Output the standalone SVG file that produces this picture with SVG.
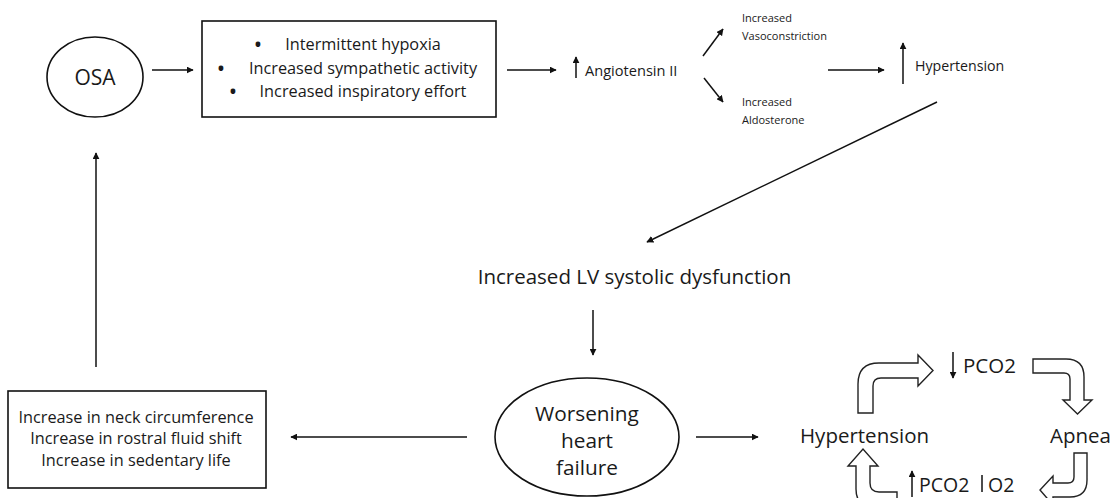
<svg xmlns="http://www.w3.org/2000/svg" width="1113" height="498" viewBox="0 0 1113 498">
<defs>
<marker id="ah" viewBox="0 0 10 10" refX="9" refY="5" markerWidth="7" markerHeight="7" markerUnits="userSpaceOnUse" orient="auto">
<path d="M0,0 L10,5 L0,10 Z" fill="#111"/>
</marker>
<style>
text{font-family:"Open Sans","Noto Sans",sans-serif;fill:#1a1a1a}
.c{text-anchor:middle}
.ln{stroke:#111;stroke-width:1.5;fill:none}
.ar{marker-end:url(#ah)}
.shape{fill:#fff;stroke:#111;stroke-width:1.6}
.blk{fill:#fff;stroke:#222;stroke-width:1.4;stroke-linejoin:miter}
.s16{font-size:16.3px}
.bul{font-size:17px;font-weight:bold}
.s11{font-size:11px}
.s20{font-size:20.5px}
.s19{font-size:19.5px}
</style>
</defs>
<rect width="1113" height="498" fill="#fff"/>

<g id="osa">
<ellipse class="shape" cx="95" cy="77" rx="48" ry="40"/>
<text class="c" x="95" y="85" font-size="21">OSA</text>
</g>

<g id="mechanisms">
<rect class="shape" x="202" y="21" width="294" height="96"/>
<text class="bul c" x="258" y="51">•</text>
<text class="c s16" x="363" y="50">Intermittent hypoxia</text>
<text class="bul c" x="221" y="75">•</text>
<text class="c s16" x="363" y="74">Increased sympathetic activity</text>
<text class="bul c" x="233" y="98">•</text>
<text class="c s16" x="363" y="97">Increased inspiratory effort</text>
</g>

<g id="angiotensin">
<line class="ln ar" x1="576" y1="78" x2="576" y2="57"/>
<text x="585" y="76" font-size="14.6">Angiotensin II</text>
</g>

<g id="vasoconstriction">
<text class="s11" x="742" y="22">Increased</text>
<text class="s11" x="742" y="40">Vasoconstriction</text>
</g>

<g id="aldosterone">
<text class="s11" x="742" y="106">Increased</text>
<text class="s11" x="742" y="124">Aldosterone</text>
</g>

<g id="hypertension-top">
<line class="ln ar" x1="903" y1="84" x2="903" y2="43"/>
<text x="915" y="71" font-size="14.2">Hypertension</text>
</g>

<g id="lv-dysfunction">
<text class="c" x="634.5" y="284" font-size="20.5">Increased LV systolic dysfunction</text>
</g>

<g id="heart-failure">
<ellipse class="shape" cx="587" cy="437" rx="92" ry="59"/>
<text class="c" x="587" y="421" font-size="20.8">Worsening</text>
<text class="c" x="587" y="448" font-size="20.8">heart</text>
<text class="c" x="587" y="475" font-size="20.8">failure</text>
</g>

<g id="risk-factors">
<rect class="shape" x="8" y="391" width="258" height="97"/>
<text class="c s16" x="136" y="423">Increase in neck circumference</text>
<text class="c s16" x="136" y="444">Increase in rostral fluid shift</text>
<text class="c s16" x="136" y="466">Increase in sedentary life</text>
</g>

<g id="hypertension-cycle">
<text class="s20" x="800" y="443">Hypertension</text>
</g>

<g id="apnea">
<text class="s20" x="1050" y="443">Apnea</text>
</g>

<g id="pco2-down">
<line class="ln ar" x1="953" y1="352" x2="953" y2="378"/>
<text class="s20" x="963" y="373">PCO2</text>
</g>

<g id="pco2-up-o2">
<line class="ln ar" x1="912" y1="497" x2="912" y2="471"/>
<text class="s19" x="919" y="492">PCO2</text>
<line class="ln" x1="982" y1="475" x2="982" y2="492"/>
<text class="s19" x="988" y="492">O2</text>
</g>

<g id="connectors">
<line class="ln ar" x1="152" y1="70" x2="193" y2="70"/>
<line class="ln ar" x1="507" y1="70" x2="556" y2="70"/>
<line class="ln ar" x1="703" y1="56" x2="723" y2="29"/>
<line class="ln ar" x1="704" y1="78" x2="723" y2="102"/>
<line class="ln ar" x1="828" y1="70" x2="884" y2="70"/>
<line class="ln ar" x1="937" y1="102" x2="647" y2="242"/>
<line class="ln ar" x1="593" y1="310" x2="593" y2="355"/>
<line class="ln ar" x1="467" y1="437" x2="291" y2="437"/>
<line class="ln ar" x1="696" y1="437" x2="758" y2="437"/>
<line class="ln ar" x1="96" y1="367" x2="96" y2="153"/>
<path class="blk" d="M858,413 L858,384 Q858,363 879,363 L918,363 L918,355 L933,370.5 L918,386 L918,378 L881,378 Q873,378 873,386 L873,413 Z"/>
<path class="blk" d="M1033,359 L1066,359 Q1084,359 1084,377 L1084,400 L1092,400 L1077.5,414 L1063,400 L1070,400 L1070,379 Q1070,373 1064,373 L1033,373 Z"/>
<path class="blk" d="M1074,453 L1087,453 L1087,480 Q1087,497 1070,497 L1053,497 L1053,505 L1040,490 L1053,476 L1053,483 L1068,483 Q1074,483 1074,477 Z"/>
<path class="blk" d="M897,492 L879,492 Q870,492 870,483 L870,466 L878,466 L863,449 L848,466 L856,466 L856,489 Q856,507 874,507 L897,507 Z"/>
</g>
</svg>
